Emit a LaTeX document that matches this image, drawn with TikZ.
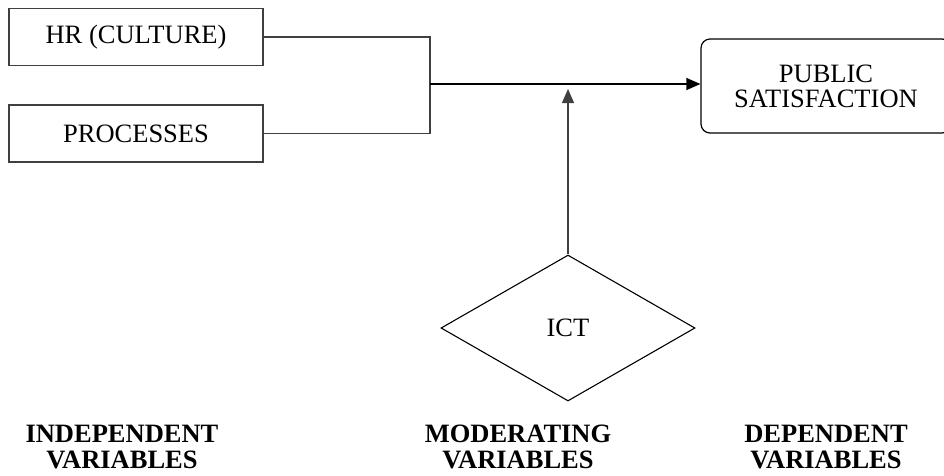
\documentclass[tikz,border=0pt]{standalone}
\usepackage{fontspec}
\setmainfont{Liberation Serif}
\usetikzlibrary{shapes.geometric,arrows.meta}
\begin{document}
\begin{tikzpicture}[x=1pt,y=-1pt,
  txt/.style={font=\fontsize{26.5}{25}\selectfont},
  sqbox/.style={draw=black!75,line width=1.2pt,minimum width=254pt,minimum height=57pt,inner sep=0pt,txt},
  rbox/.style={draw=black,line width=1.2pt,rounded corners=9pt,minimum width=250pt,minimum height=94pt,inner sep=0pt,align=center,txt},
  dia/.style={draw=black,line width=1.1pt,diamond,minimum width=254pt,minimum height=146pt,inner sep=0pt,txt},
  lbl/.style={align=center,font=\fontsize{26.5}{26}\selectfont\bfseries},
  conn/.style={draw=black!75,line width=1.2pt},
  arr/.style={draw=black,line width=1.2pt,-{Triangle[length=14pt,width=12pt]}}]
\useasboundingbox (0,0) rectangle (944,475);
\clip (0,0) rectangle (944,475);
\node[sqbox] (hr) at (136,37) {HR (CULTURE)};
\node[sqbox] (proc) at (136,133.5) {PROCESSES};
\node[rbox] (pub) at (826,86) {PUBLIC\\SATISFACTION};
\node[dia] (ict) at (568,328) {ICT};
\coordinate (j) at (430,84);
\coordinate (m) at (568,89);
\draw[conn] (hr.east) -| (j);
\draw[conn] (proc.east) -| (j);
\draw[arr] (j) -- (j -| pub.west);
\draw[arr,draw=black!75] (ict.north) -- (m);
\node[lbl] (iv) at (122,447) {INDEPENDENT\\VARIABLES};
\node[lbl] (mv) at (518,447) {MODERATING\\VARIABLES};
\node[lbl] (dv) at (826,447) {DEPENDENT\\VARIABLES};
\end{tikzpicture}
\end{document}
